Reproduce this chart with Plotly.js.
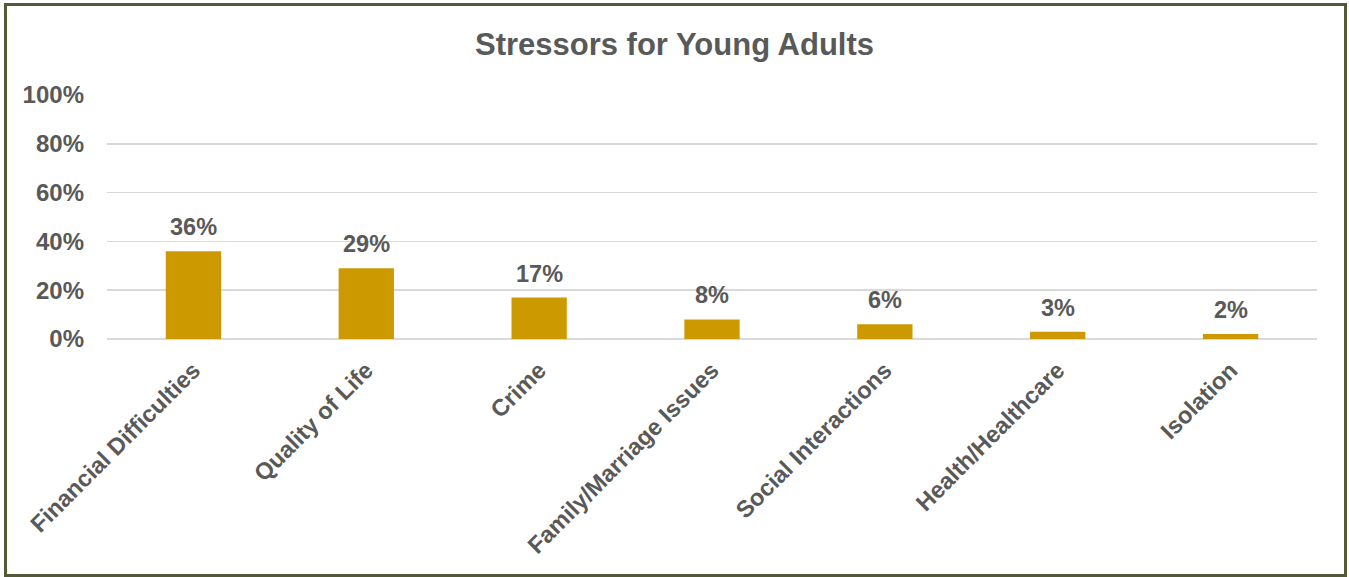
<!DOCTYPE html>
<html>
<head>
<meta charset="utf-8">
<script src="https://cdn.plot.ly/plotly-3.0.1.min.js"></script>
<style>html,body{margin:0;padding:0;background:#fff;}#chart{width:1349px;height:577px;}</style>
</head>
<body>
<div id="chart"></div>
<script>
const categories = ["Financial Difficulties", "Quality of Life", "Crime", "Family/Marriage Issues", "Social Interactions", "Health/Healthcare", "Isolation"];
const values = [0.36, 0.29, 0.17, 0.08, 0.06, 0.03, 0.02];
const yTickVals = [0, 0.2, 0.4, 0.6, 0.8, 1.0];
const yTickText = ["0%", "20%", "40%", "60%", "80%", "100%"];

const W = 1349, H = 577;
const margin = {l: 107, r: 32, t: 95, b: 238};
const pw = W - margin.l - margin.r, ph = H - margin.t - margin.b;
const px2x = p => (p - margin.l) / pw;
const px2y = p => (H - margin.b - p) / ph;

const textColor = "#595959";
const font = "Liberation Sans, Arial, sans-serif";

const trace = {
  type: "bar",
  x: categories,
  y: values,
  marker: {color: "#cc9a00"},
  width: 0.32,
  hoverinfo: "none"
};

const annotations = categories.map((c, i) => ({
  x: c, y: values[i], xref: "x", yref: "y",
  text: Math.round(values[i] * 100) + "%",
  showarrow: false, yanchor: "bottom", yshift: 9,
  font: {family: font, size: 23.5, color: textColor, weight: "bold"}
}));

const layout = {
  width: W, height: H,
  margin: margin,
  paper_bgcolor: "#ffffff",
  plot_bgcolor: "#ffffff",
  showlegend: false,
  title: {
    text: "Stressors for Young Adults",
    x: 0.5, xref: "container", xanchor: "center",
    y: 1 - 44 / H, yref: "container", yanchor: "middle",
    font: {family: font, size: 31, color: textColor, weight: "bold"}
  },
  xaxis: {
    type: "category",
    tickangle: -45,
    showgrid: false, showline: false, zeroline: false,
    ticks: "", ticklabelstandoff: 12,
    tickfont: {family: font, size: 23.5, color: textColor, weight: "bold"},
    fixedrange: true
  },
  yaxis: {
    range: [0, 1],
    tickvals: yTickVals,
    ticktext: yTickText,
    showgrid: true, gridcolor: "#d9d9d9", gridwidth: 1.5,
    zeroline: true, zerolinecolor: "#d9d9d9", zerolinewidth: 1.5,
    showline: false, ticks: "", ticklabelstandoff: 22,
    tickfont: {family: font, size: 24, color: textColor, weight: "bold"},
    fixedrange: true
  },
  annotations: annotations,
  shapes: [{
    type: "rect", xref: "paper", yref: "paper",
    x0: px2x(5.5), x1: px2x(1345.5), y0: px2y(575.5), y1: px2y(4.5),
    line: {color: "#545a38", width: 3}, fillcolor: "rgba(0,0,0,0)", layer: "above"
  }]
};

Plotly.newPlot("chart", [trace], layout, {staticPlot: true, displayModeBar: false});
</script>
</body>
</html>
